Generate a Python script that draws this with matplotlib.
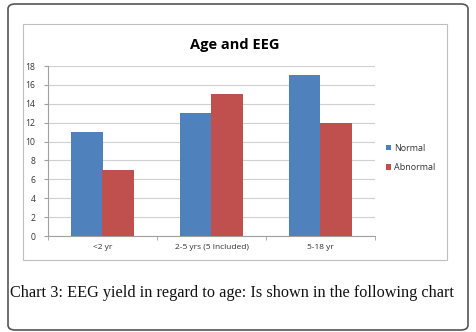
import matplotlib
matplotlib.use("Agg")
import matplotlib.pyplot as plt
import numpy as np
from matplotlib.patches import FancyBboxPatch, Rectangle

categories = ["<2 yr", "2-5 yrs (5 Included)", "5-18 yr"]
normal = [11, 13, 17]
abnormal = [7, 15, 12]
series_names = ["Normal", "Abnormal"]
yticks = [0, 2, 4, 6, 8, 10, 12, 14, 16, 18]

W, H = 477, 332
fig = plt.figure(figsize=(W / 100, H / 100), dpi=100)
fig.patch.set_facecolor("white")

def fx(px):
    return px / W

def fy(py):
    return 1 - py / H

# outer rounded frame
outer = FancyBboxPatch((fx(8), fy(330)), fx(460), 326 / H,
                       boxstyle="round,pad=0,rounding_size=0.015",
                       transform=fig.transFigure, facecolor="white",
                       edgecolor="#555555", linewidth=1.2, zorder=-2)
fig.patches.append(outer)

# chart area border
inner = Rectangle((fx(23), fy(260)), fx(424), 236 / H,
                  transform=fig.transFigure, facecolor="white",
                  edgecolor="#BFBFBF", linewidth=0.8, zorder=-1)
fig.patches.append(inner)

ax = fig.add_axes([fx(48), fy(236), fx(327), 170 / H])
ax.set_facecolor("none")

x = np.arange(len(categories))
w = 1 / 3.5
blue = "#4F81BD"
red = "#C0504D"
ax.bar(x - w / 2, normal, w, color=blue, label=series_names[0], zorder=3)
ax.bar(x + w / 2, abnormal, w, color=red, label=series_names[1], zorder=3)

ax.set_xlim(-0.5, len(categories) - 0.5)
ax.set_ylim(0, 18)
ax.set_yticks(yticks)
ax.set_yticklabels([str(v) for v in yticks], fontsize=6.2, color="#333333",
                   family="Open Sans")
ax.yaxis.grid(True, color="#D0D0D0", linewidth=0.8, zorder=0)
ax.set_axisbelow(True)

ax.set_xticks(x)
ax.set_xticklabels(categories, fontsize=6, color="#333333", family="Open Sans")
ax.tick_params(axis="x", length=0, pad=6)
ax.set_xticks(np.arange(-0.5, len(categories)), minor=True)
ax.tick_params(axis="x", which="minor", length=3, color="#A0A0A0")
ax.tick_params(axis="y", length=3, color="#A0A0A0", pad=6)

for side in ["top", "right"]:
    ax.spines[side].set_visible(False)
for side in ["left", "bottom"]:
    ax.spines[side].set_color("#A0A0A0")
    ax.spines[side].set_linewidth(0.8)

fig.text(fx(235), fy(45), "Age and EEG", ha="center", va="center",
         fontsize=10.5, fontweight="bold", family="Open Sans", color="black")

leg = ax.legend(loc="center left", bbox_to_anchor=(fx(386), fy(158)),
                bbox_transform=fig.transFigure, frameon=False,
                prop={"family": "Open Sans", "size": 6.5},
                handlelength=0.6, handleheight=0.6, handletextpad=0.3,
                labelspacing=1.2, borderaxespad=0, borderpad=0)
for t in leg.get_texts():
    t.set_color("#333333")

fig.text(fx(10), fy(293), "Chart 3: EEG yield in regard to age: Is shown in the following chart",
         ha="left", va="center", fontsize=11.7, family="Liberation Serif", color="#111111")

fig.savefig("out.png", dpi=100)
